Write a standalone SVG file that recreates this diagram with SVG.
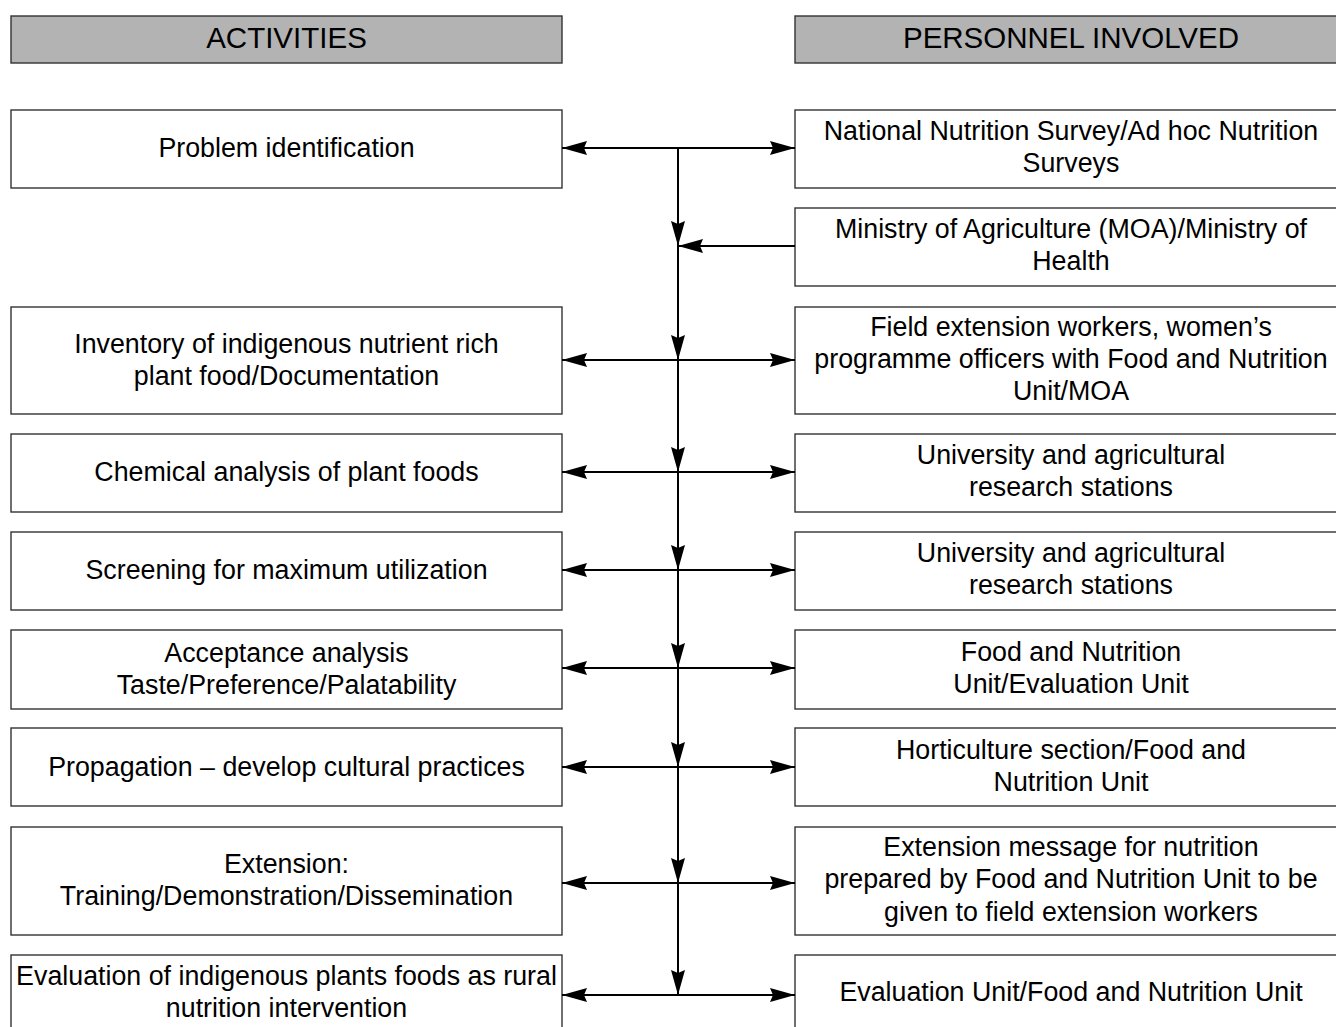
<svg xmlns="http://www.w3.org/2000/svg" width="1336" height="1027" viewBox="0 0 1336 1027">
<defs>
<style>
.box{fill:#fff;stroke:#333;stroke-width:1.4}
.hdr{fill:#b3b3b3;stroke:#333;stroke-width:1.4}
text{font-family:"Liberation Sans",Arial,sans-serif;font-size:26.8px;fill:#000;text-anchor:middle}
.ht{font-size:29.5px}
.ln{stroke:#000;stroke-width:2;fill:none}
</style>
<marker id="ah" viewBox="0 0 25 14" refX="25" refY="7" markerWidth="25" markerHeight="14" markerUnits="userSpaceOnUse" orient="auto-start-reverse">
<path d="M0,0 L25,7 L0,14 L3,7 Z" fill="#000"/>
</marker>
</defs>
<rect width="1336" height="1027" fill="#fff"/>
<g id="hdr-activities"><rect class="hdr" x="11" y="16" width="551" height="47"/><text class="ht" x="286.5" y="48">ACTIVITIES</text></g>
<g id="hdr-personnel"><rect class="hdr" x="795" y="16" width="560" height="47"/><text class="ht" x="1071" y="48">PERSONNEL INVOLVED</text></g>

<g id="a1"><rect class="box" x="11" y="110" width="551" height="78"/><text x="286.5" y="156.5">Problem identification</text></g>
<g id="a2"><rect class="box" x="11" y="307" width="551" height="107"/><text x="286.5" y="352.5">Inventory of indigenous nutrient rich</text><text x="286.5" y="384.5">plant food/Documentation</text></g>
<g id="a3"><rect class="box" x="11" y="434" width="551" height="78"/><text x="286.5" y="480.5">Chemical analysis of plant foods</text></g>
<g id="a4"><rect class="box" x="11" y="532" width="551" height="78"/><text x="286.5" y="578.5">Screening for maximum utilization</text></g>
<g id="a5"><rect class="box" x="11" y="630" width="551" height="79"/><text x="286.5" y="661.5">Acceptance analysis</text><text x="286.5" y="693.5">Taste/Preference/Palatability</text></g>
<g id="a6"><rect class="box" x="11" y="728" width="551" height="78"/><text x="286.5" y="775.5">Propagation – develop cultural practices</text></g>
<g id="a7"><rect class="box" x="11" y="827" width="551" height="108"/><text x="286.5" y="872.5">Extension:</text><text x="286.5" y="904.5">Training/Demonstration/Dissemination</text></g>
<g id="a8"><rect class="box" x="11" y="955" width="551" height="90"/><text x="286.5" y="984.5">Evaluation of indigenous plants foods as rural</text><text x="286.5" y="1016.5">nutrition intervention</text></g>

<g id="p1"><rect class="box" x="795" y="110" width="560" height="78"/><text x="1071" y="140">National Nutrition Survey/Ad hoc Nutrition</text><text x="1071" y="172">Surveys</text></g>
<g id="p2"><rect class="box" x="795" y="208" width="560" height="78"/><text x="1071" y="238">Ministry of Agriculture (MOA)/Ministry of</text><text x="1071" y="270">Health</text></g>
<g id="p3"><rect class="box" x="795" y="307" width="560" height="107"/><text x="1071" y="336">Field extension workers, women’s</text><text x="1071" y="368">programme officers with Food and Nutrition</text><text x="1071" y="400">Unit/MOA</text></g>
<g id="p4"><rect class="box" x="795" y="434" width="560" height="78"/><text x="1071" y="464">University and agricultural</text><text x="1071" y="496">research stations</text></g>
<g id="p5"><rect class="box" x="795" y="532" width="560" height="78"/><text x="1071" y="562">University and agricultural</text><text x="1071" y="594">research stations</text></g>
<g id="p6"><rect class="box" x="795" y="630" width="560" height="79"/><text x="1071" y="661">Food and Nutrition</text><text x="1071" y="693">Unit/Evaluation Unit</text></g>
<g id="p7"><rect class="box" x="795" y="728" width="560" height="78"/><text x="1071" y="759">Horticulture section/Food and</text><text x="1071" y="791">Nutrition Unit</text></g>
<g id="p8"><rect class="box" x="795" y="827" width="560" height="108"/><text x="1071" y="856">Extension message for nutrition</text><text x="1071" y="888">prepared by Food and Nutrition Unit to be</text><text x="1071" y="921">given to field extension workers</text></g>
<g id="p9"><rect class="box" x="795" y="955" width="560" height="90"/><text x="1071" y="1001">Evaluation Unit/Food and Nutrition Unit</text></g>

<g id="connectors">
<line class="ln" x1="678" y1="148" x2="562" y2="148" marker-end="url(#ah)"/>
<line class="ln" x1="678" y1="148" x2="795" y2="148" marker-end="url(#ah)"/>
<line class="ln" x1="795" y1="246" x2="678" y2="246" marker-end="url(#ah)"/>
<line class="ln" x1="678" y1="148" x2="678" y2="246" marker-end="url(#ah)"/>
<line class="ln" x1="678" y1="246" x2="678" y2="360" marker-end="url(#ah)"/>
<line class="ln" x1="678" y1="360" x2="678" y2="472" marker-end="url(#ah)"/>
<line class="ln" x1="678" y1="472" x2="678" y2="570" marker-end="url(#ah)"/>
<line class="ln" x1="678" y1="570" x2="678" y2="668" marker-end="url(#ah)"/>
<line class="ln" x1="678" y1="668" x2="678" y2="767" marker-end="url(#ah)"/>
<line class="ln" x1="678" y1="767" x2="678" y2="883" marker-end="url(#ah)"/>
<line class="ln" x1="678" y1="883" x2="678" y2="995" marker-end="url(#ah)"/>
<line class="ln" x1="562" y1="360" x2="795" y2="360" marker-start="url(#ah)" marker-end="url(#ah)"/>
<line class="ln" x1="562" y1="472" x2="795" y2="472" marker-start="url(#ah)" marker-end="url(#ah)"/>
<line class="ln" x1="562" y1="570" x2="795" y2="570" marker-start="url(#ah)" marker-end="url(#ah)"/>
<line class="ln" x1="562" y1="668" x2="795" y2="668" marker-start="url(#ah)" marker-end="url(#ah)"/>
<line class="ln" x1="562" y1="767" x2="795" y2="767" marker-start="url(#ah)" marker-end="url(#ah)"/>
<line class="ln" x1="562" y1="883" x2="795" y2="883" marker-start="url(#ah)" marker-end="url(#ah)"/>
<line class="ln" x1="562" y1="995" x2="795" y2="995" marker-start="url(#ah)" marker-end="url(#ah)"/>
</g>
</svg>
